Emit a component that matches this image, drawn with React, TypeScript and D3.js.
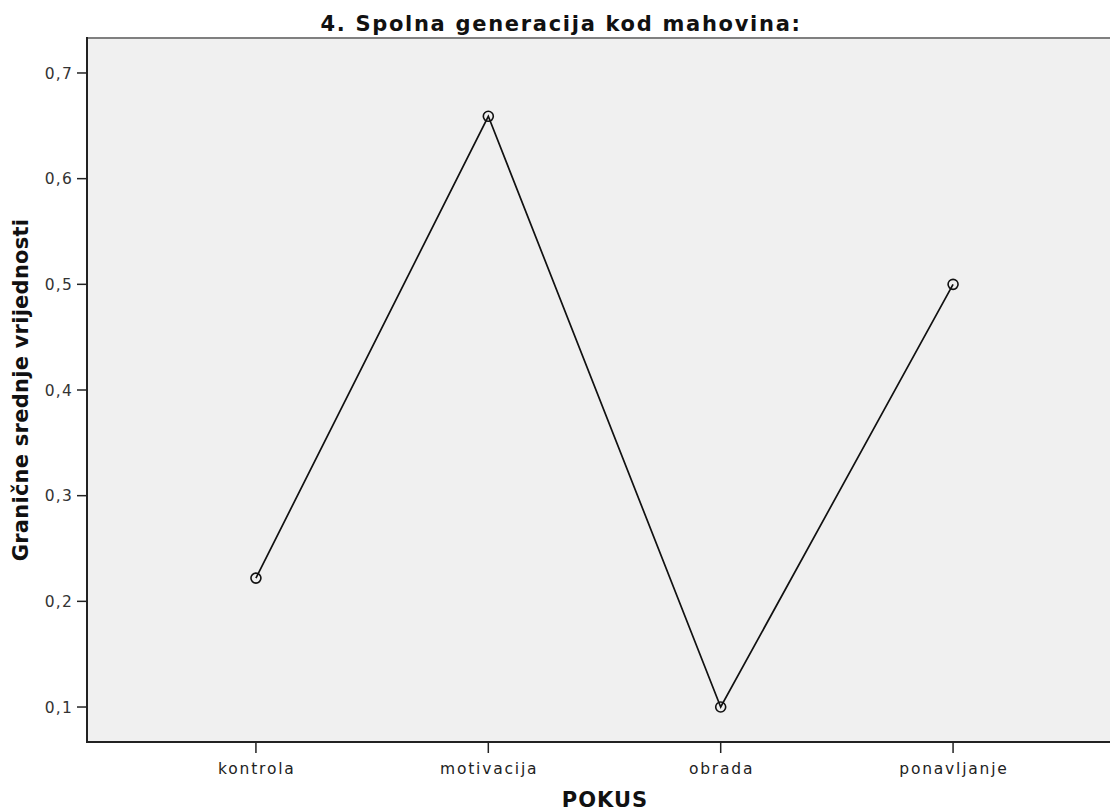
import React from "react";
import * as d3 from "d3";

const categories = ["kontrola", "motivacija", "obrada", "ponavljanje"];
const values = [0.222, 0.659, 0.1, 0.5];
const yTicks = [0.1, 0.2, 0.3, 0.4, 0.5, 0.6, 0.7];
const title = "4. Spolna generacija kod mahovina:";
const xTitle = "POKUS";
const yTitle = "Granične srednje vrijednosti";

const W = 1110;
const H = 811;
const left = 87;
const right = 1122;
const top = 38;
const bottom = 742;

export default function App() {
  const x = d3.scalePoint<string>().domain(categories).range([left, right]).padding(0.727);
  const y = d3.scaleLinear().domain([0.0669, 0.7331]).range([bottom, top]);
  const line = d3
    .line<number>()
    .x((_, i) => x(categories[i]) as number)
    .y((d) => y(d));
  const fmt = (v: number) => v.toFixed(1).replace(".", ",");
  const font = "'DejaVu Sans', Verdana, sans-serif";
  return (
    <svg
      width={W}
      height={H}
      style={{ position: "absolute", left: 0, top: 0, display: "block" }}
      fontFamily={font}
    >
      <rect x={0} y={0} width={W} height={H} fill="#ffffff" />
      <rect x={left} y={top} width={right - left} height={bottom - top} fill="#f0f0f0" />
      <line x1={left} x2={right} y1={top} y2={top} stroke="#808080" strokeWidth={2} />
      <line x1={left} x2={left} y1={top - 1} y2={bottom + 1} stroke="#222" strokeWidth={2} />
      <line x1={left} x2={right} y1={bottom} y2={bottom} stroke="#222" strokeWidth={2} />
      {yTicks.map((t) => (
        <g key={t}>
          <line x1={left - 10} x2={left} y1={y(t)} y2={y(t)} stroke="#222" strokeWidth={1.5} />
          <text
            x={left - 14}
            y={y(t)}
            dy="0.36em"
            textAnchor="end"
            fontSize={15.5}
            letterSpacing={1.2}
            fill="#333"
          >
            {fmt(t)}
          </text>
        </g>
      ))}
      {categories.map((c) => (
        <g key={c}>
          <line x1={x(c)} x2={x(c)} y1={bottom} y2={bottom + 11} stroke="#222" strokeWidth={1.5} />
          <text
            x={(x(c) as number) + 0.9}
            y={774}
            textAnchor="middle"
            fontSize={15.5}
            letterSpacing={1.8}
            fill="#222"
          >
            {c}
          </text>
        </g>
      ))}
      <path d={line(values) || ""} fill="none" stroke="#111" strokeWidth={1.7} />
      {values.map((v, i) => (
        <circle
          key={i}
          cx={x(categories[i])}
          cy={y(v)}
          r={5}
          fill="none"
          stroke="#111"
          strokeWidth={1.6}
        />
      ))}
      <text
        x={561}
        y={31}
        textAnchor="middle"
        fontSize={21}
        fontWeight="bold"
        fill="#111"
        letterSpacing={1.7}
      >
        {title}
      </text>
      <text
        x={605}
        y={807}
        textAnchor="middle"
        fontSize={21}
        fontWeight="bold"
        fill="#111"
        letterSpacing={1}
      >
        {xTitle}
      </text>
      <text
        transform={`translate(28,390) rotate(-90)`}
        textAnchor="middle"
        fontSize={21}
        fontWeight="bold"
        fill="#111"
        letterSpacing={0.25}
      >
        {yTitle}
      </text>
    </svg>
  );
}
